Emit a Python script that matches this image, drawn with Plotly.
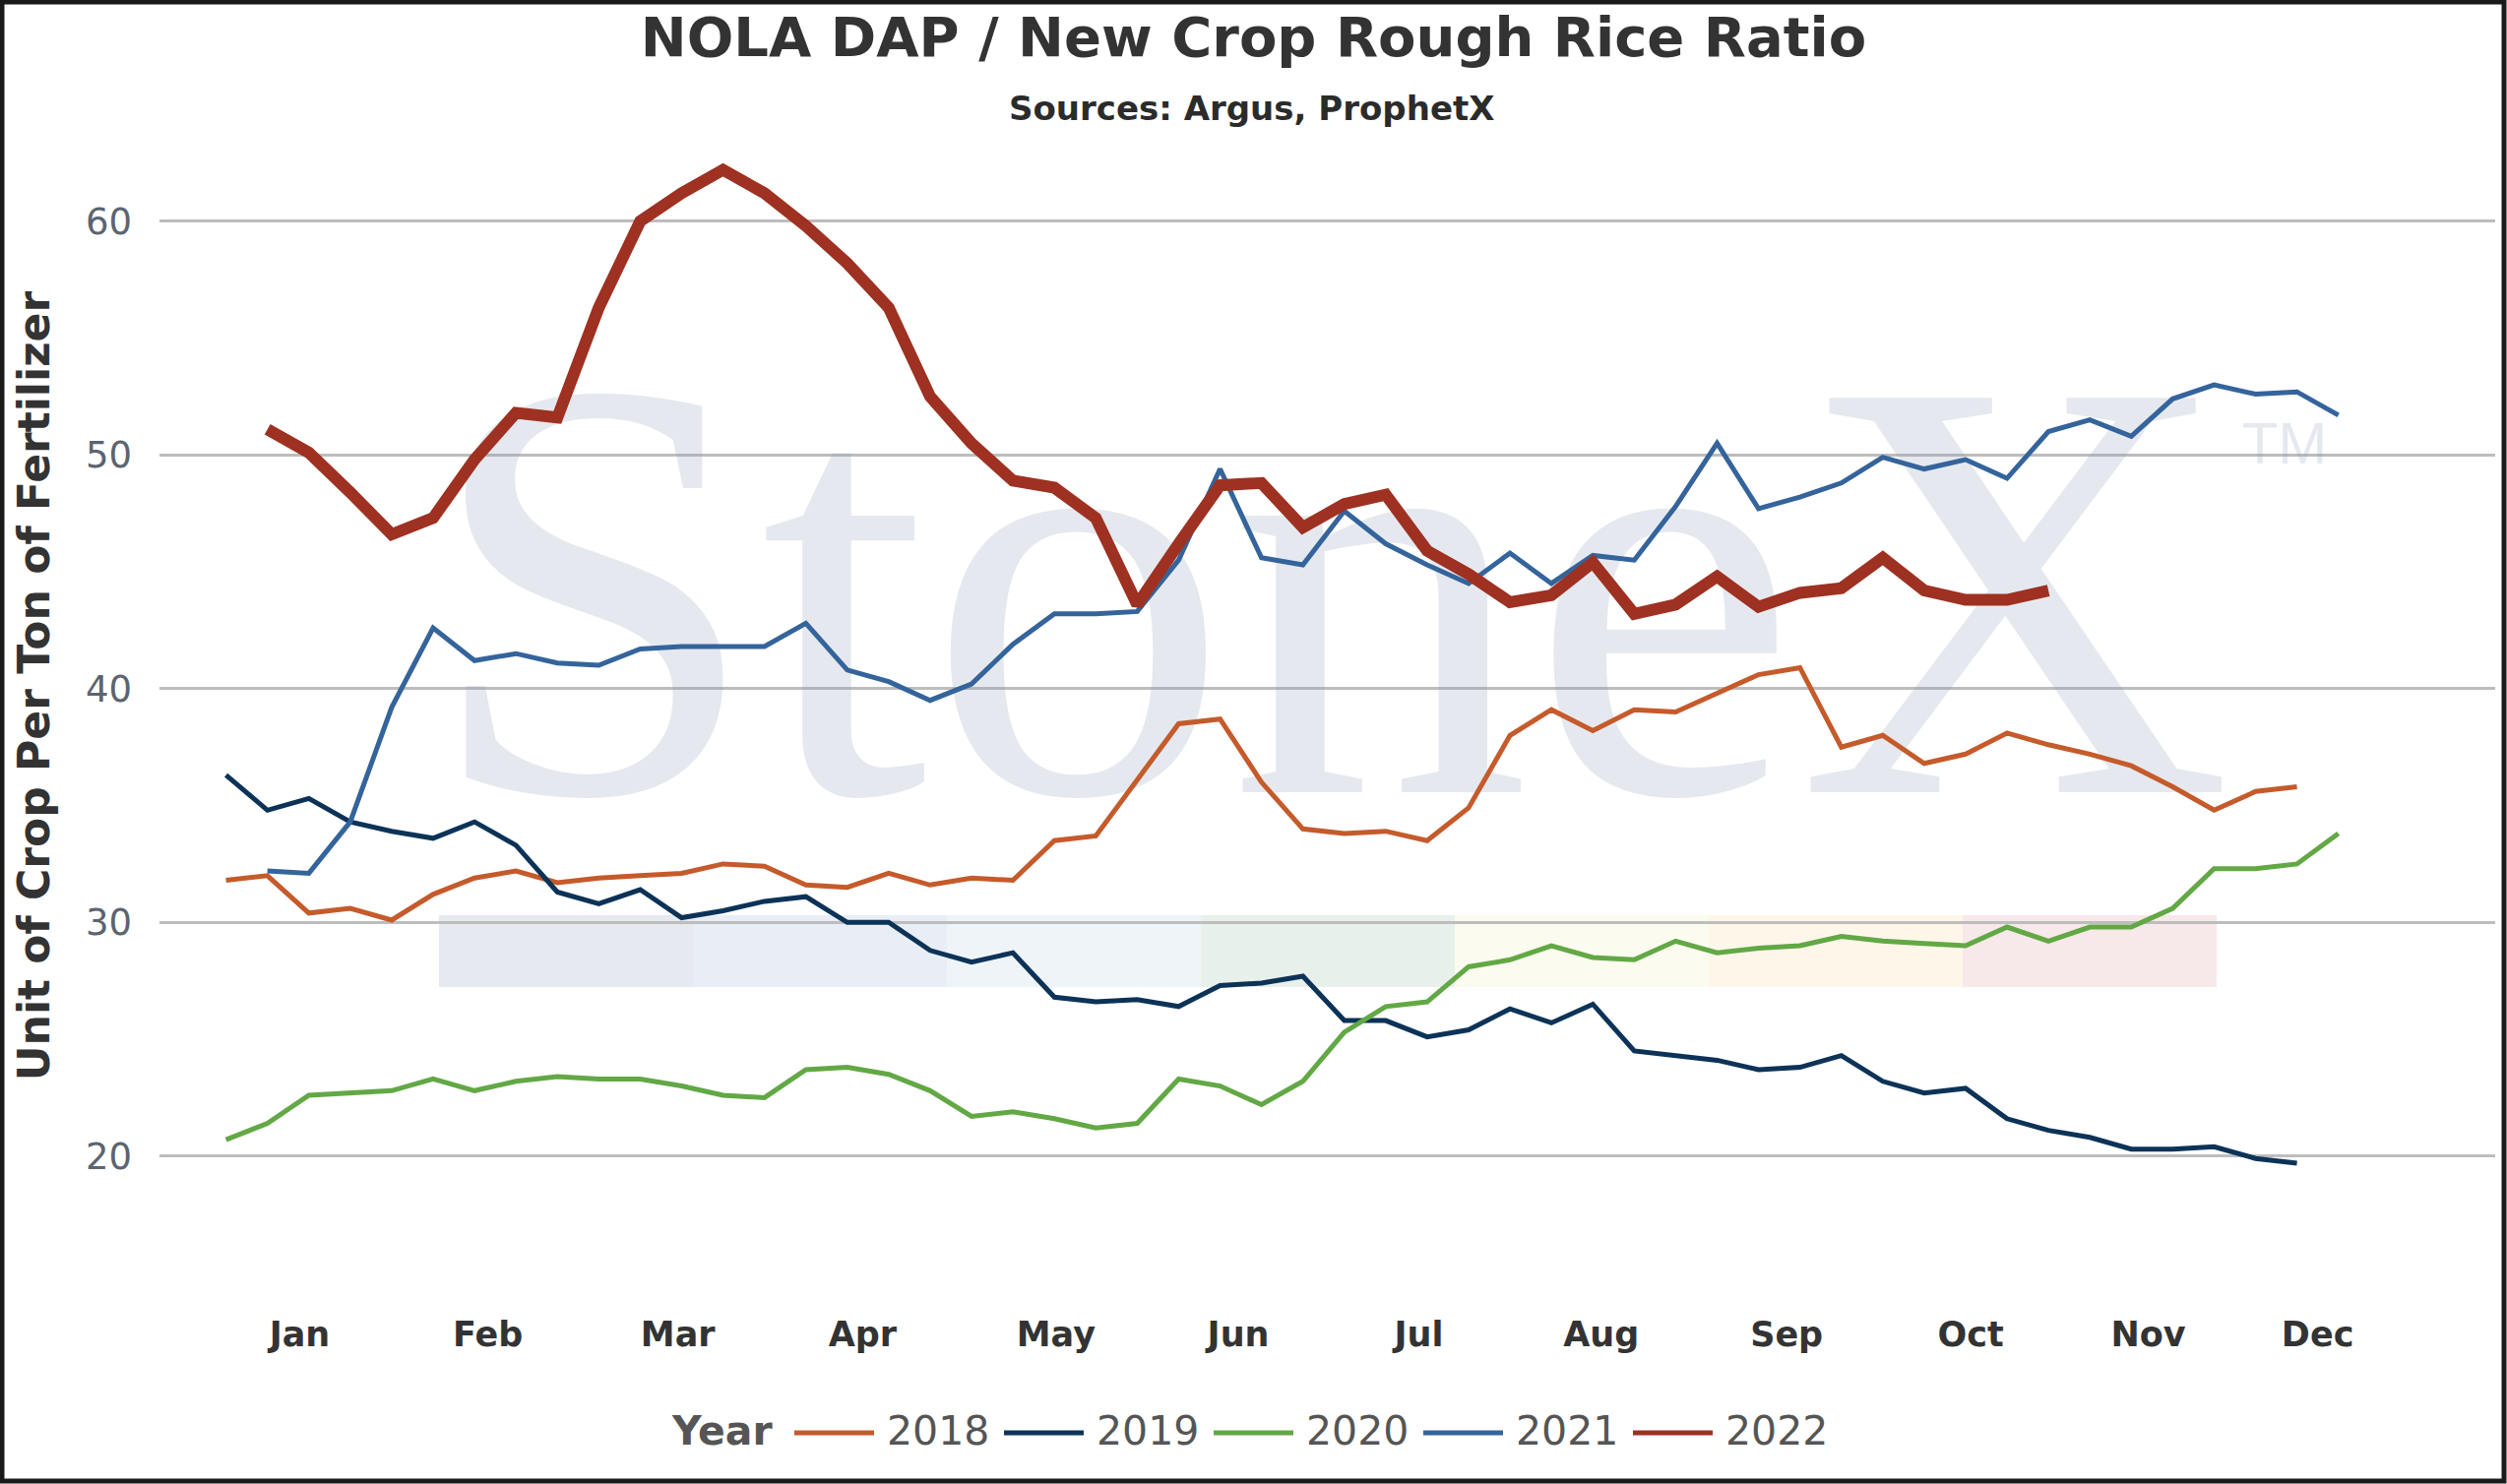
import plotly.graph_objects as go

# ---------------- data ----------------
weeks = list(range(52))
months = ["Jan", "Feb", "Mar", "Apr", "May", "Jun", "Jul", "Aug", "Sep", "Oct", "Nov", "Dec"]
month_pos = [1.78, 6.32, 10.91, 15.37, 20.04, 24.44, 28.80, 33.20, 37.68, 42.12, 46.41, 50.50]
years = ["2018", "2019", "2020", "2021", "2022"]

y2018 = [31.8, 32.0, 30.4, 30.6, 30.1, 31.2, 31.9, 32.2, 31.7, 31.9, 32.0, 32.1, 32.5, 32.4,
         31.6, 31.5, 32.1, 31.6, 31.9, 31.8, 33.5, 33.7, 36.1, 38.5, 38.7, 36.0, 34.0, 33.8,
         33.9, 33.5, 34.9, 38.0, 39.1, 38.2, 39.1, 39.0, 39.8, 40.6, 40.9, 37.5, 38.0, 36.8,
         37.2, 38.1, 37.6, 37.2, 36.7, 35.8, 34.8, 35.6, 35.8]
y2019 = [36.3, 34.8, 35.3, 34.3, 33.9, 33.6, 34.3, 33.3, 31.3, 30.8, 31.4, 30.2, 30.5, 30.9,
         31.1, 30.0, 30.0, 28.8, 28.3, 28.7, 26.8, 26.6, 26.7, 26.4, 27.3, 27.4, 27.7, 25.8,
         25.8, 25.1, 25.4, 26.3, 25.7, 26.5, 24.5, 24.3, 24.1, 23.7, 23.8, 24.3, 23.2, 22.7,
         22.9, 21.6, 21.1, 20.8, 20.3, 20.3, 20.4, 19.9, 19.7]
y2020 = [20.7, 21.4, 22.6, 22.7, 22.8, 23.3, 22.8, 23.2, 23.4, 23.3, 23.3, 23.0, 22.6, 22.5,
         23.7, 23.8, 23.5, 22.8, 21.7, 21.9, 21.6, 21.2, 21.4, 23.3, 23.0, 22.2, 23.2, 25.3,
         26.4, 26.6, 28.1, 28.4, 29.0, 28.5, 28.4, 29.2, 28.7, 28.9, 29.0, 29.4, 29.2, 29.1,
         29.0, 29.8, 29.2, 29.8, 29.8, 30.6, 32.3, 32.3, 32.5, 33.8]
y2021 = [None, 32.2, 32.1, 34.3, 39.2, 42.6, 41.2, 41.5, 41.1, 41.0, 41.7, 41.8, 41.8, 41.8,
         42.8, 40.8, 40.3, 39.5, 40.2, 41.9, 43.2, 43.2, 43.3, 45.5, 49.4, 45.6, 45.3, 47.6,
         46.2, 45.3, 44.5, 45.8, 44.5, 45.7, 45.5, 47.8, 50.5, 47.7, 48.2, 48.8, 49.9, 49.4,
         49.8, 49.0, 51.0, 51.5, 50.8, 52.4, 53.0, 52.6, 52.7, 51.7]
y2022 = [None, 51.1, 50.1, 48.4, 46.6, 47.3, 49.8, 51.8, 51.6, 56.3, 60.0, 61.2, 62.2, 61.2,
         59.8, 58.2, 56.3, 52.5, 50.5, 48.9, 48.6, 47.3, 43.6, 46.2, 48.7, 48.8, 46.9, 47.9,
         48.3, 45.9, 44.9, 43.7, 44.0, 45.4, 43.2, 43.6, 44.8, 43.5, 44.1, 44.3, 45.6, 44.2,
         43.8, 43.8, 44.2]
series = [y2018, y2019, y2020, y2021, y2022]

# ---------------- styling ----------------
colors = ["#c55a2b", "#0c3357", "#62a845", "#34649b", "#9e3122"]
widths = [5, 5, 5, 5, 12]
band_colors = ["#e6e9ef", "#e9eef6", "#eff4f9", "#e7f0ea", "#fbfbef", "#fdf6e9", "#f7e8e9"]

W, H = 2547, 1508
L, R, T, B = 162, 2535, 80, 1314
FONT = "DejaVu Sans"

# pixel geometry of the data axes
x_first_px, x_step_px = 229.6, 42.08
y60_px, y_unit_px = 224.8, 23.75
xr0 = 0 - (x_first_px - L) / x_step_px
xr1 = xr0 + (R - L) / x_step_px
yr1 = 60 + (y60_px - T) / y_unit_px
yr0 = 60 - (B - y60_px) / y_unit_px


def px2x(px):
    return xr0 + (px - L) / x_step_px


def py2y(py):
    return 60 - (py - y60_px) / y_unit_px


def ppx(px):
    return (px - L) / (R - L)


def ppy(py):
    return (B - py) / (B - T)


fig = go.Figure()

# watermark (drawn first so data lines sit on top)
fig.add_trace(go.Scatter(
    x=[px2x(1350)], y=[py2y(652)], mode="text", text=["StoneX"],
    textposition="middle center",
    textfont=dict(family="Liberation Serif", size=612, color="rgba(138,155,184,0.22)"),
    hoverinfo="skip", showlegend=False))
fig.add_trace(go.Scatter(
    x=[px2x(2321)], y=[py2y(456)], mode="text", text=["TM"],
    textposition="middle center",
    textfont=dict(family="Liberation Sans", size=60, color="rgba(138,155,184,0.22)"),
    hoverinfo="skip", showlegend=False))

for name, ys, c, w in zip(years, series, colors, widths):
    fig.add_trace(go.Scatter(
        x=weeks[:len(ys)], y=ys, mode="lines", name=name,
        line=dict(color=c, width=w), showlegend=False, connectgaps=False))

shapes = []
# logo colour band
for k, bc in enumerate(band_colors):
    shapes.append(dict(type="rect", xref="x", yref="y",
                       x0=px2x(446 + 258 * k), x1=px2x(446 + 258 * (k + 1)),
                       y0=py2y(1003), y1=py2y(930),
                       fillcolor=bc, line=dict(width=0), layer="below"))
# frame
shapes.append(dict(type="rect", xref="paper", yref="paper",
                   x0=ppx(2), x1=ppx(W - 3), y0=ppy(H - 3), y1=ppy(2),
                   line=dict(color="#1a1a1a", width=5), fillcolor="rgba(0,0,0,0)", layer="above"))

annotations = []
# subtitle
annotations.append(dict(text="<b>Sources: Argus, ProphetX</b>", xref="paper", yref="paper",
                        x=ppx(1271), y=ppy(110), xanchor="center", yanchor="middle",
                        showarrow=False, font=dict(family=FONT, size=34, color="#2b2b2b")))
# legend (manual, to match long line samples)
annotations.append(dict(text="<b>Year</b>", xref="paper", yref="paper",
                        x=ppx(680), y=ppy(1454), xanchor="left", yanchor="middle",
                        showarrow=False, font=dict(family=FONT, size=41, color="#555555")))
for k, (name, c) in enumerate(zip(years, colors)):
    x0 = 807 + 213 * k
    shapes.append(dict(type="line", xref="paper", yref="paper",
                       x0=ppx(x0), x1=ppx(x0 + 81), y0=ppy(1456), y1=ppy(1456),
                       line=dict(color=c, width=5)))
    annotations.append(dict(text=name, xref="paper", yref="paper",
                            x=ppx(x0 + 92), y=ppy(1454), xanchor="left", yanchor="middle",
                            showarrow=False, font=dict(family=FONT, size=41, color="#555555")))

fig.update_layout(
    width=W, height=H,
    margin=dict(l=L, r=W - R, t=T, b=H - B, autoexpand=False),
    paper_bgcolor="white", plot_bgcolor="white",
    showlegend=False,
    title=dict(text="<b>NOLA DAP / New Crop Rough Rice Ratio</b>",
               xref="container", x=0.5, y=1 - 37 / H, yref="container",
               xanchor="center", yanchor="middle",
               font=dict(family=FONT, size=56, color="#333333")),
    xaxis=dict(range=[xr0, xr1], tickmode="array", tickvals=month_pos, ticktext=months,
               showgrid=False, zeroline=False, showline=False, ticks="",
               tickfont=dict(family=FONT, size=35, color="#333333", weight="bold"),
               ticklabelstandoff=18, fixedrange=True),
    yaxis=dict(range=[yr0, yr1], tickmode="linear", tick0=0, dtick=10,
               showgrid=True, gridcolor="#bdbdbd", gridwidth=2.5,
               zeroline=False, showline=False, ticks="",
               tickfont=dict(family=FONT, size=37, color="#5b6470"),
               ticklabelstandoff=27,
               title=dict(text="<b>Unit of Crop Per Ton of Fertilizer</b>", standoff=22,
                          font=dict(family=FONT, size=44, color="#333333")),
               fixedrange=True),
    shapes=shapes, annotations=annotations,
)

fig.write_html("out.html", config={"displayModeBar": False},
               post_script="document.body.style.margin='0px';document.body.style.overflow='hidden';")
